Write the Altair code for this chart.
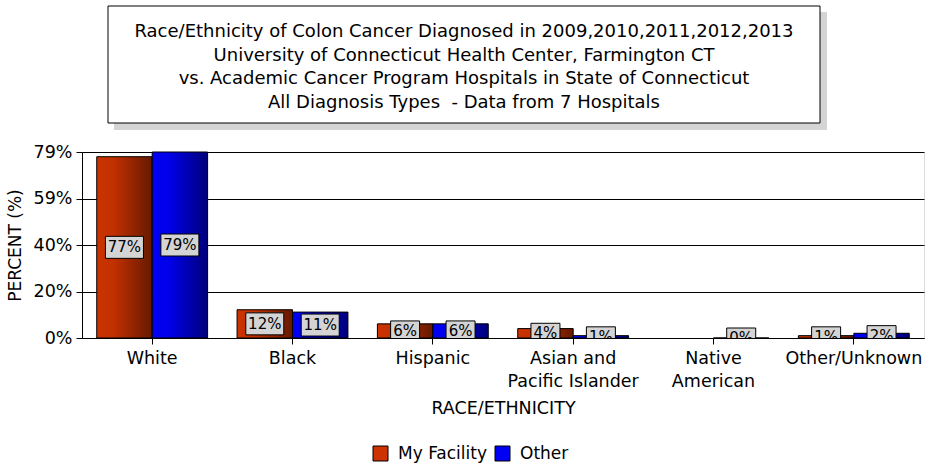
import altair as alt
import pandas as pd

categories = ["White", "Black", "Hispanic", "Asian and Pacific Islander",
              "Native American", "Other/Unknown"]
series_names = ["My Facility", "Other"]
my_facility = [77, 12, 6, 4, None, 1]
other = [79, 11, 6, 1, 0, 2]
y_ticks = [0, 19.75, 39.5, 59.25, 79]
title_lines = [
    "Race/Ethnicity of Colon Cancer Diagnosed in 2009,2010,2011,2012,2013",
    "University of Connecticut Health Center, Farmington CT",
    "vs. Academic Cancer Program Hospitals in State of Connecticut",
    "All Diagnosis Types\u00a0 - Data from 7 Hospitals",
]

rows = []
for c, a, b in zip(categories, my_facility, other):
    rows.append({"cat": c, "series": "My Facility", "value": a})
    rows.append({"cat": c, "series": "Other", "value": b})
df = pd.DataFrame(rows)

FONT = "DejaVu Sans"
W, H = 842, 186

label_expr = ("datum.value == 'Asian and Pacific Islander' ? ['Asian and', 'Pacific Islander'] : "
              "datum.value == 'Native American' ? ['Native', 'American'] : datum.value")

x_enc = alt.X("cat:N", sort=categories,
              scale=alt.Scale(domain=categories, paddingInner=0.21, paddingOuter=0.105),
              axis=alt.Axis(title="RACE/ETHNICITY", labelAngle=0, labelExpr=label_expr,
                            labelFont=FONT, labelFontSize=17.5, labelColor="black",
                            labelLineHeight=23, labelPadding=5,
                            tickColor="black", tickSize=6, domainColor="black",
                            titleFont=FONT, titleFontSize=17.5, titleFontWeight="normal",
                            titleColor="black", titleX=W / 2, titleY=70,
                            titleBaseline="middle", titleAlign="center"))
xo_enc = alt.XOffset("series:N", scale=alt.Scale(domain=series_names, paddingInner=0, paddingOuter=0))
y_scale = alt.Scale(domain=[0, 79], nice=False, zero=True)
y_axis = alt.Axis(title="PERCENT (%)", values=y_ticks,
                  labelExpr="format(round(datum.value), 'd') + '%'",
                  labelFont=FONT, labelFontSize=17.5, labelColor="black", labelPadding=4,
                  tickColor="black", tickSize=6, domainColor="black",
                  grid=True, gridColor="black", gridWidth=1, gridOpacity=1,
                  titleFont=FONT, titleFontSize=17, titleFontWeight="normal",
                  titleColor="black", titleAngle=-90, titleX=-67, titleY=H / 2,
                  titleBaseline="middle", titleAlign="center")

base = alt.Chart(df)

bars = base.mark_bar(stroke="black", strokeWidth=1).encode(
    x=x_enc,
    xOffset=xo_enc,
    y=alt.Y("value:Q", scale=y_scale, axis=y_axis),
    color=alt.Color("series:N", scale=alt.Scale(domain=series_names, range=["#cc3300", "#0000f5"]),
                    legend=alt.Legend(title=None, orient="none", legendX=290, legendY=293,
                                      direction="horizontal", symbolType="square",
                                      symbolSize=225, symbolStrokeColor="black",
                                      symbolStrokeWidth=1, symbolOpacity=1,
                                      labelFont=FONT, labelFontSize=17, labelColor="black",
                                      columnPadding=5, labelOffset=9)),
)

shade = base.mark_bar(
    strokeWidth=0,
    color=alt.LinearGradient(
        gradient="linear", x1=0, x2=1, y1=0, y2=0,
        stops=[alt.GradientStop(color="rgba(0,0,0,0)", offset=0),
               alt.GradientStop(color="rgba(0,0,0,0.05)", offset=0.3),
               alt.GradientStop(color="rgba(0,0,0,0.5)", offset=1)]),
).encode(x=alt.X("cat:N", sort=categories), xOffset="series:N", y="value:Q")

lab = base.transform_filter("datum.value != null").transform_calculate(
    mid="datum.value / 2", txt="format(datum.value, 'd') + '%'")

box_wide = lab.transform_filter("datum.value >= 10").mark_bar(
    width=38, fill="#d4d4d4", stroke="black", strokeWidth=1, yOffset=-11, y2Offset=11, clip=True
).encode(x=alt.X("cat:N", sort=categories), xOffset="series:N", y="mid:Q", y2="mid:Q")

box_narrow = lab.transform_filter("datum.value < 10").mark_bar(
    width=29, fill="#d4d4d4", stroke="black", strokeWidth=1, yOffset=-10, y2Offset=10, clip=True
).encode(x=alt.X("cat:N", sort=categories), xOffset="series:N", y="mid:Q", y2="mid:Q")

texts = lab.mark_text(font=FONT, fontSize=15, color="black", baseline="middle", clip=True).encode(
    x=alt.X("cat:N", sort=categories), xOffset="series:N", y="mid:Q", text="txt:N")

deco = pd.DataFrame({"k": [0]})
shadow = alt.Chart(deco).mark_rect(fill="#d4d4d4").encode(
    x=alt.value(32), x2=alt.value(745), y=alt.value(-140), y2=alt.value(-22))
frame = alt.Chart(deco).mark_rect(fill="white", stroke="black", strokeWidth=1).encode(
    x=alt.value(26), x2=alt.value(738), y=alt.value(-146), y2=alt.value(-29))
title_text = alt.Chart(deco).mark_text(
    text=title_lines, font=FONT, fontSize=18, color="black", align="center",
    baseline="middle", lineHeight=23.5
).encode(x=alt.value(382), y=alt.value(-120))

chart = alt.layer(shadow, frame, title_text, bars, shade, box_wide, box_narrow, texts).properties(
    width=W, height=H,
    autosize=alt.AutoSizeParams(type="none"),
    padding={"left": 82, "top": 152, "right": 4, "bottom": 128},
).configure_view(fill="#ffffcc", strokeWidth=0).configure(background="white")

chart.save("out.html", embed_options={"renderer": "svg", "actions": False})
